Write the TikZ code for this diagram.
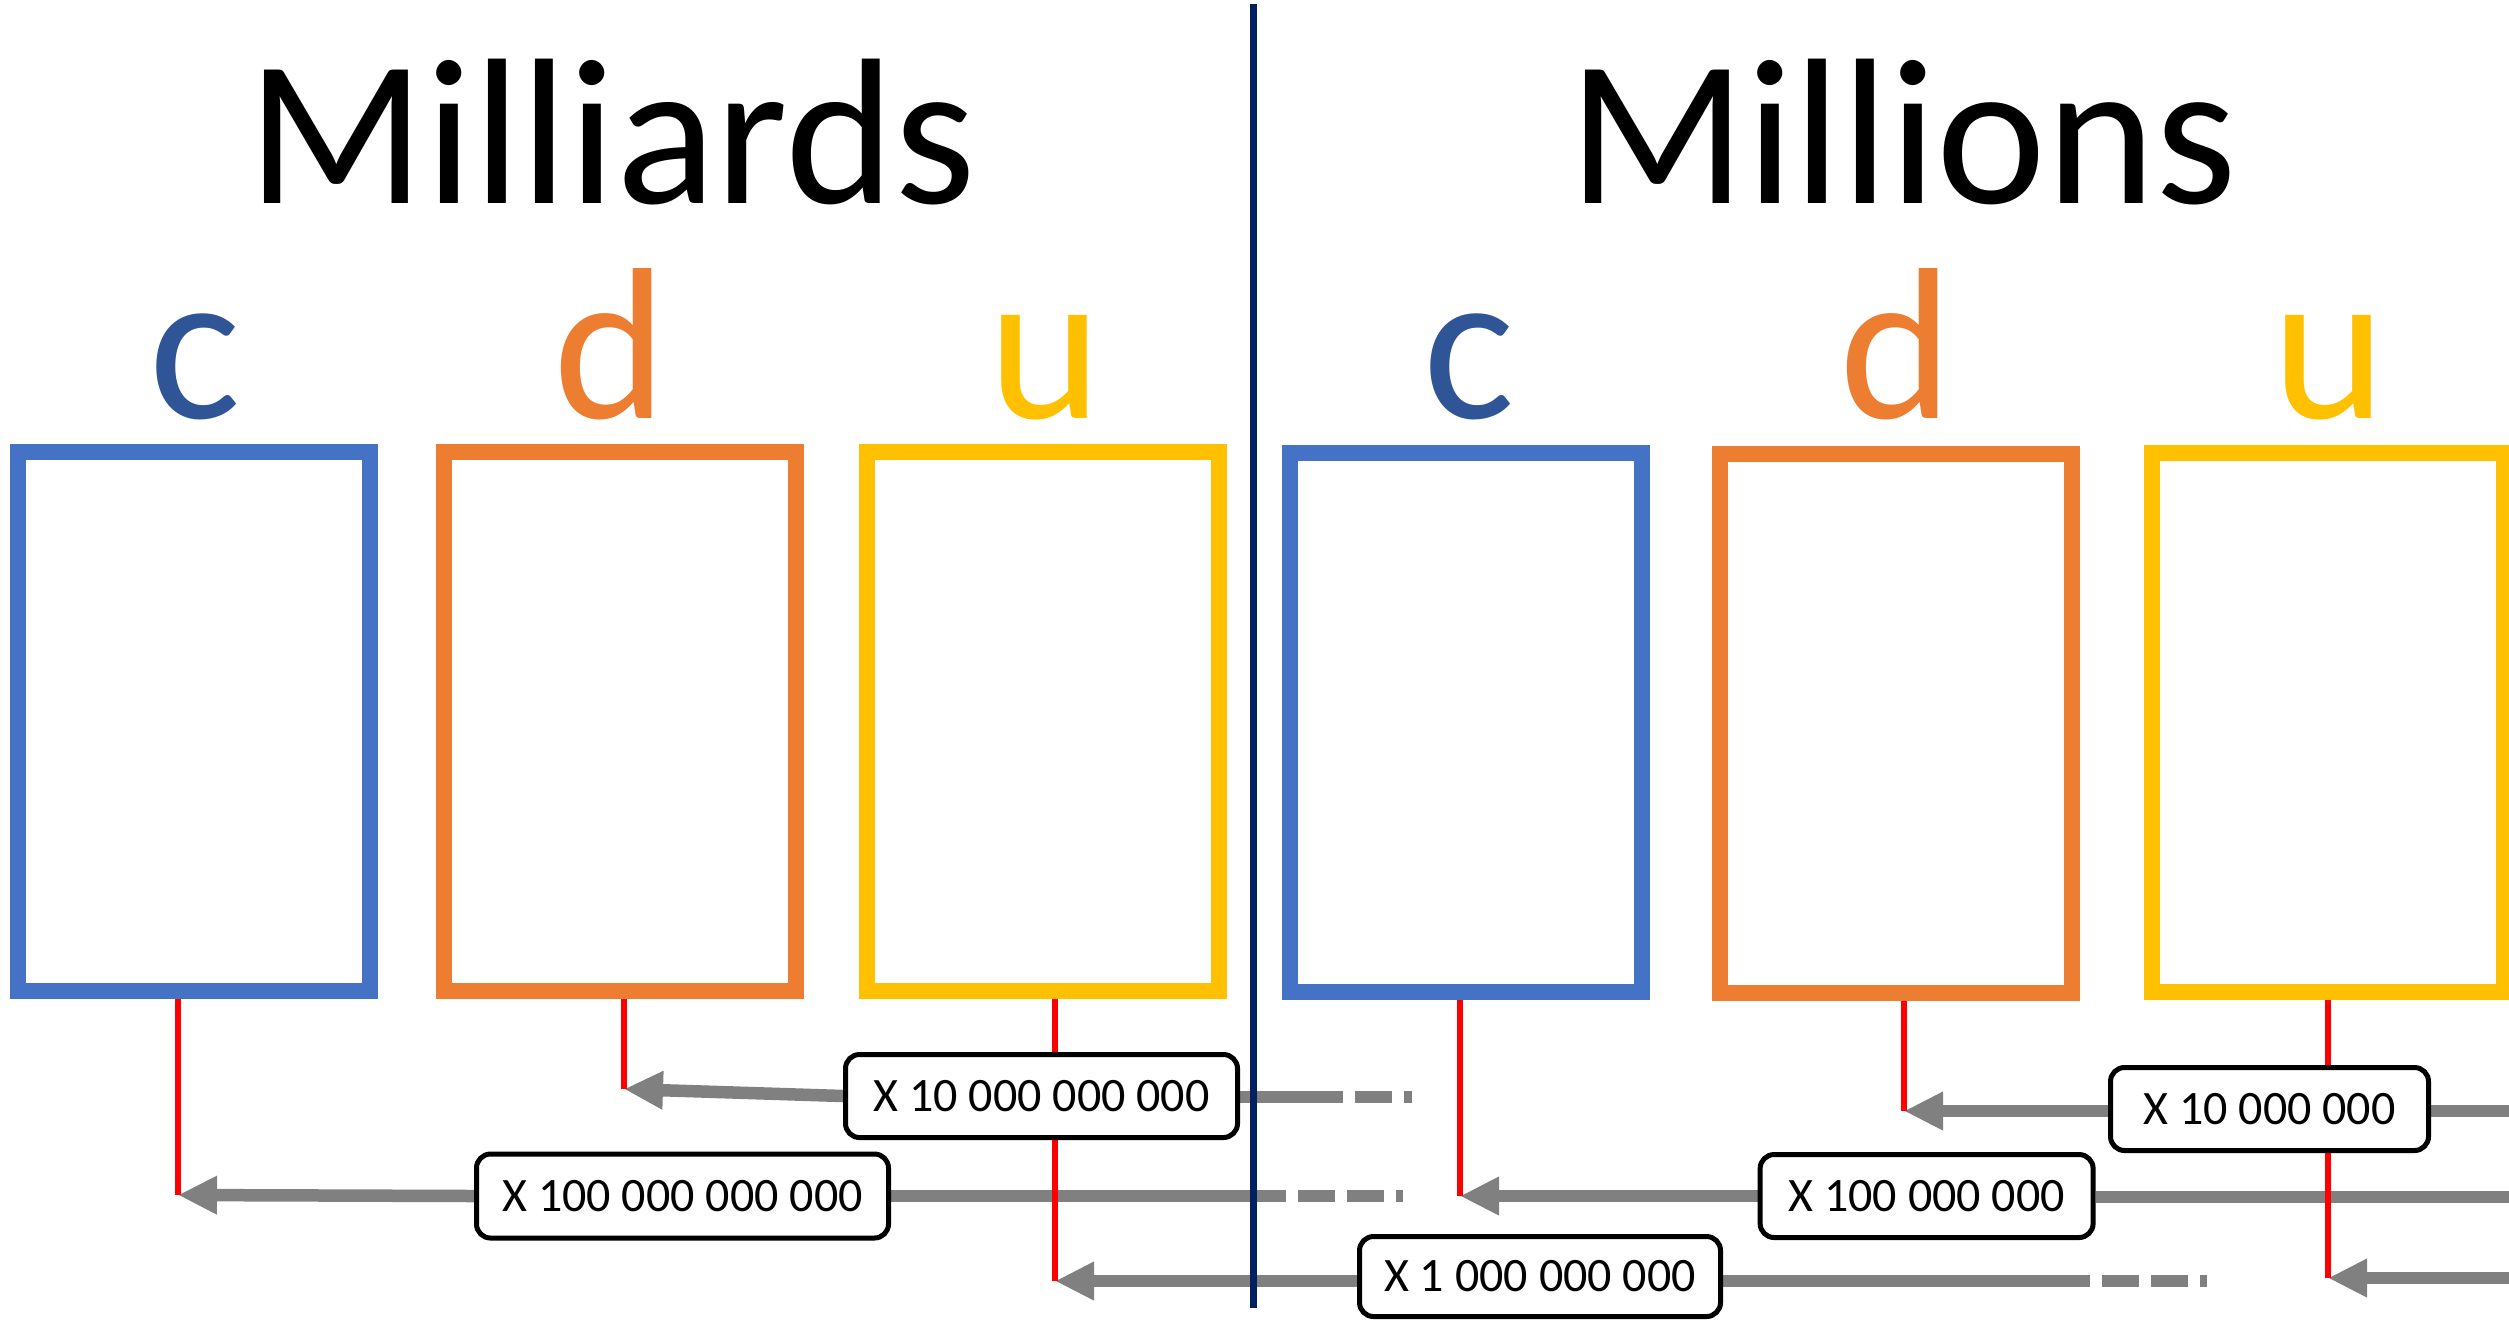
\documentclass[tikz,border=0pt]{standalone}
\usepackage{fontspec}
\setmainfont{Carlito}
\usetikzlibrary{arrows.meta,calc}
\definecolor{boxblue}{HTML}{4472C4}
\definecolor{letblue}{HTML}{2F5597}
\definecolor{boxorange}{HTML}{ED7D31}
\definecolor{boxgold}{HTML}{FFC000}
\definecolor{navyline}{HTML}{002060}
\definecolor{arrgray}{HTML}{808080}
\definecolor{redline}{HTML}{FF0000}
\pgfdeclarelayer{bglayer}
\pgfsetlayers{bglayer,main}
\begin{document}
\begin{tikzpicture}[x=0.5pt,y=-0.5pt,
  digitbox/.style={draw, line width=8pt, inner sep=0pt, minimum width=176pt, minimum height=269.5pt},
  headtext/.style={font=\fontsize{104}{120}\selectfont, anchor=base, inner sep=0pt},
  digitletter/.style={font=\fontsize{108}{120}\selectfont, anchor=base, inner sep=0pt},
  factorbox/.style={draw=black, line width=2.5pt, rounded corners=7pt, fill=white, font=\fontsize{24}{28}\selectfont, inner sep=0pt},
  garrow/.style={draw=arrgray, line width=6.25pt, -{Triangle[length=19.5pt,width=18pt]}},
  gline/.style={draw=arrgray, line width=6.25pt},
  gdash/.style={draw=arrgray, line width=6.25pt, dash pattern=on 18.5pt off 6pt},
  redstem/.style={draw=redline, line width=3pt},
]
\useasboundingbox (0,0) rectangle (2509,1319);
\clip (0,0) rectangle (2509,1319);

% titles
\node[headtext] (tmilliards) at (612,203) {Milliards};
\node[headtext] (tmillions) at (1903,203) {Millions};

% column letters
\node[digitletter, text=letblue] (lc1) at (195,418) {c};
\node[digitletter, text=boxorange] (ld1) at (610,418) {d};
\node[digitletter, text=boxgold] (lu1) at (1045,418) {u};
\node[digitletter, text=letblue] (lc2) at (1469,418) {c};
\node[digitletter, text=boxorange] (ld2) at (1896,418) {d};
\node[digitletter, text=boxgold] (lu2) at (2329,418) {u};

% digit boxes
\node[digitbox, draw=boxblue] (bc1) at (193.5,721.5) {};
\node[digitbox, draw=boxorange] (bd1) at (619.75,721.5) {};
\node[digitbox, draw=boxgold] (bu1) at (1043,721.5) {};
\node[digitbox, draw=boxblue] (bc2) at (1466,722) {};
\node[digitbox, draw=boxorange] (bd2) at (1895.75,723) {};
\node[digitbox, draw=boxgold] (bu2) at (2328,722) {};

% red stems: tops and tips
\coordinate (sc1) at (178,999);   \coordinate (tc1) at (178,1195);
\coordinate (sd1) at (624,999);   \coordinate (td1) at (624,1089);
\coordinate (su1) at (1055,999);  \coordinate (tu1) at (1055,1281);
\coordinate (sc2) at (1460,999);  \coordinate (tc2) at (1460,1196);
\coordinate (sd2) at (1904,1000); \coordinate (td2) at (1904,1111);
\coordinate (su2) at (2328,999);  \coordinate (tu2) at (2328,1278);

% factor labels
\node[factorbox, minimum width=196pt, minimum height=41.5pt] (f1) at (1041.5,1096) {X 10 000 000 000};
\node[factorbox, minimum width=206pt, minimum height=42pt] (f2) at (682.5,1196) {X 100 000 000 000};
\node[factorbox, minimum width=180.5pt, minimum height=40pt] (f3) at (1540,1276.5) {X 1 000 000 000};
\node[factorbox, minimum width=159pt, minimum height=41.5pt] (f4) at (2269.5,1109) {X 10 000 000};
\node[factorbox, minimum width=166.5pt, minimum height=41.5pt] (f5) at (1926.6,1196) {X 100 000 000};

% continuation coordinates
\coordinate (e1a) at (1343,1097); \coordinate (e1b) at (1355,1097); \coordinate (e1c) at (1412,1097);
\coordinate (e2a) at (1286,1196); \coordinate (e2b) at (1298,1196); \coordinate (e2c) at (1403,1196);
\coordinate (e3a) at (2090,1281); \coordinate (e3b) at (2102,1281); \coordinate (e3c) at (2207,1281);
\coordinate (e4) at (2520,1111);
\coordinate (e5) at (2520,1197);
\coordinate (e6) at (2520,1278);

\begin{pgfonlayer}{bglayer}
% gray arrows
\draw[garrow] (f1.west) -- (td1);
\draw[gline] (f1.east |- e1a) -- (e1a);
\draw[gdash] (e1b) -- (e1c);
\draw[garrow] (f2.west) -- (tc1);
\draw[gline] (f2.east) -- (e2a);
\draw[gdash] (e2b) -- (e2c);
\draw[garrow] (f3.west |- tu1) -- (tu1);
\draw[gline] (f3.east |- e3a) -- (e3a);
\draw[gdash] (e3b) -- (e3c);
\draw[garrow] (f4.west |- td2) -- (td2);
\draw[gline] (f4.east |- e4) -- (e4);
\draw[garrow] (f5.west) -- (tc2);
\draw[gline] (f5.east |- e5) -- (e5);
\draw[garrow] (e6) -- (tu2);
% red stems
\draw[redstem] (sc1) -- (tc1);
\draw[redstem] (sd1) -- (td1);
\draw[redstem] (su1) -- (tu1);
\draw[redstem] (sc2) -- (tc2);
\draw[redstem] (sd2) -- (td2);
\draw[redstem] (su2) -- (tu2);
\end{pgfonlayer}

% separator
\coordinate (navtop) at (1253.5,4);
\coordinate (navbot) at (1253.5,1308);
\draw[navyline, line width=3.25pt] (navtop) -- (navbot);
\end{tikzpicture}
\end{document}
